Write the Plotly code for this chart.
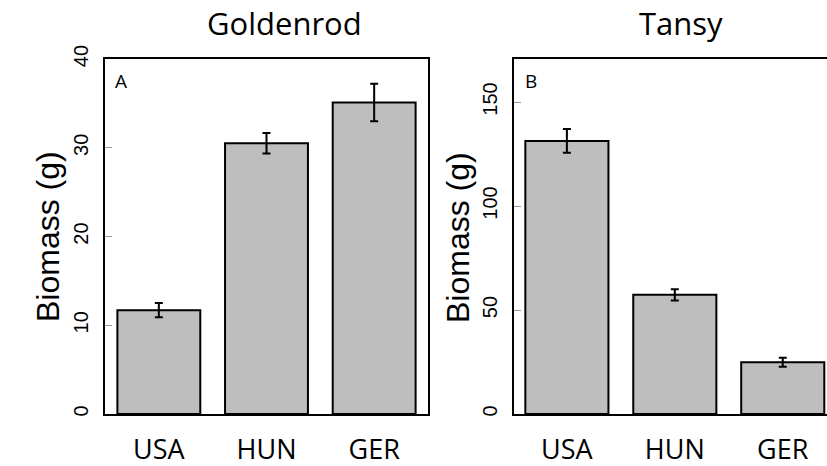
import plotly.graph_objects as go

categories = ["USA", "HUN", "GER"]
goldenrod_mean = [11.7, 30.5, 35.1]
goldenrod_err = [0.8, 1.15, 2.1]
tansy_mean = [131.3, 57.3, 24.9]
tansy_err = [5.7, 2.7, 2.2]
panel_titles = ["Goldenrod", "Tansy"]
panel_letters = ["A", "B"]
y_label = "Biomass (g)"
goldenrod_ticks = [0, 10, 20, 30, 40]
tansy_ticks = [0, 50, 100, 150]

W, H = 827, 466
px = lambda x: x / W
py = lambda y: 1 - y / H

bar_style = dict(marker=dict(color="#bebebe", line=dict(color="black", width=2)),
                 width=0.77, showlegend=False, hoverinfo="skip")
err_style = dict(type="data", color="black", thickness=2, width=4)

fig = go.Figure()
fig.add_trace(go.Bar(x=[0, 1, 2], y=goldenrod_mean,
                     error_y=dict(array=goldenrod_err, **err_style),
                     xaxis="x", yaxis="y", **bar_style))
fig.add_trace(go.Bar(x=[0, 1, 2], y=tansy_mean,
                     error_y=dict(array=tansy_err, **err_style),
                     xaxis="x2", yaxis="y2", **bar_style))

ydom = [py(414), py(59)]
common_x = dict(showline=True, linecolor="black", linewidth=2, mirror=True,
                showgrid=False, zeroline=False, ticks="", automargin=False,
                tickmode="array", tickvals=[0, 1, 2], ticktext=categories,
                tickfont=dict(family="Open Sans", size=27, color="black"),
                ticklabelstandoff=11)
common_y = dict(showline=True, linecolor="black", linewidth=2, mirror=True,
                showgrid=False, zeroline=False, ticks="inside", ticklen=7,
                tickcolor="#999999", tickwidth=1, tickangle=-90, automargin=False,
                tickfont=dict(family="Liberation Sans", size=20, color="black"),
                ticklabelstandoff=7, domain=ydom)

fig.update_layout(
    width=W, height=H, margin=dict(l=0, r=0, t=0, b=0, autoexpand=False),
    plot_bgcolor="white", paper_bgcolor="white", barmode="overlay",
    xaxis=dict(domain=[px(105), px(428)], range=[-0.5, 2.5], anchor="y", **common_x),
    yaxis=dict(range=[0, 40], tickvals=goldenrod_ticks, anchor="x", **common_y),
    xaxis2=dict(domain=[px(514), 1.0], range=[-0.49, 2.41], anchor="y2", **common_x),
    yaxis2=dict(range=[0, 170.7], tickvals=tansy_ticks, anchor="x2", **common_y),
)

for i, (tx, lx, yx) in enumerate([(284, 121, 48), (681, 531, 458)]):
    fig.add_annotation(text=panel_titles[i], x=px(tx), y=py(23), xref="paper", yref="paper",
                       showarrow=False, xanchor="center", yanchor="middle",
                       font=dict(family="Open Sans", size=31, color="black"))
    fig.add_annotation(text=panel_letters[i], x=px(lx), y=py(81), xref="paper", yref="paper",
                       showarrow=False, xanchor="center", yanchor="middle",
                       font=dict(family="Open Sans", size=19, color="black"))
    fig.add_annotation(text=y_label, x=px(yx), y=py(237), xref="paper", yref="paper",
                       showarrow=False, xanchor="center", yanchor="middle", textangle=-90,
                       font=dict(family="Liberation Sans", size=32, color="black"))

fig.write_html("out.html")
